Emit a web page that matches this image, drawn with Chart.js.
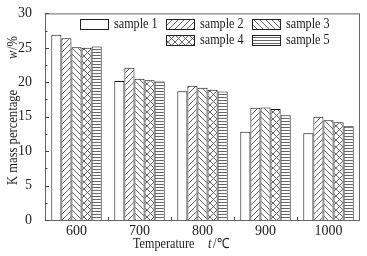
<!DOCTYPE html>
<html>
<head>
<meta charset="utf-8">
<script src="https://cdn.jsdelivr.net/npm/chart.js@4/dist/chart.umd.min.js"></script>
<style>
  html, body { margin: 0; padding: 0; background: #fff; }
  #wrap { width: 367px; height: 256px; }
</style>
</head>
<body>
<div id="wrap"><canvas id="c" width="367" height="256"></canvas></div>
<script>
const FONT = "'Liberation Serif', 'Times New Roman', serif";
const INK = '#1c1c1c';

const temperatures = ['600', '700', '800', '900', '1000'];
const sample1 = [26.9, 20.2, 18.7, 12.8, 12.6];
const sample2 = [26.4, 22.1, 19.5, 16.3, 15.0];
const sample3 = [25.1, 20.5, 19.2, 16.35, 14.5];
const sample4 = [25.0, 20.3, 18.9, 16.1, 14.2];
const sample5 = [25.2, 20.1, 18.65, 15.2, 13.6];
const seriesLabels = ['sample 1', 'sample 2', 'sample 3', 'sample 4', 'sample 5'];
const yTicks = [0, 5, 10, 15, 20, 25, 30];

// hatch fills, built on small tiles
function hatch(kind) {
  const size = kind === 'horiz' ? 3 : (kind === 'cross' ? 7 : 6);
  const t = document.createElement('canvas');
  t.width = size; t.height = size;
  const g = t.getContext('2d');
  g.fillStyle = '#fff';
  g.fillRect(0, 0, size, size);
  g.strokeStyle = '#555';
  g.lineWidth = 0.9;
  g.beginPath();
  if (kind === 'slash' || kind === 'cross') {
    g.moveTo(-1, size + 1); g.lineTo(size + 1, -1);
    g.moveTo(-1, 1); g.lineTo(1, -1);
    g.moveTo(size - 1, size + 1); g.lineTo(size + 1, size - 1);
  }
  if (kind === 'back' || kind === 'cross') {
    g.moveTo(-1, -1); g.lineTo(size + 1, size + 1);
    g.moveTo(size - 1, -1); g.lineTo(size + 1, 1);
    g.moveTo(-1, size - 1); g.lineTo(1, size + 1);
  }
  if (kind === 'horiz') {
    g.moveTo(0, 1.5); g.lineTo(size, 1.5);
  }
  g.stroke();
  return document.getElementById('c').getContext('2d').createPattern(t, 'repeat');
}

const fills = ['#ffffff', hatch('slash'), hatch('back'), hatch('cross'), hatch('horiz')];
const values = [sample1, sample2, sample3, sample4, sample5];

// the scanned text is a bit narrow, so squeeze it horizontally
function squeezed(ctx, str, x, y, font, sx) {
  ctx.save();
  ctx.translate(x, y);
  ctx.scale(sx, 1);
  ctx.font = font;
  ctx.fillText(str, 0, 0);
  ctx.restore();
}

// frame, inside ticks, axis titles and the 3+2 legend
const decor = {
  id: 'decor',
  afterDraw(chart) {
    const { ctx, chartArea: a, scales } = chart;
    ctx.save();
    ctx.strokeStyle = '#666';
    ctx.lineWidth = 1;
    ctx.strokeRect(a.left + 0.5, a.top + 0.5, a.right - a.left - 1, a.bottom - a.top);

    ctx.strokeStyle = '#444';
    ctx.beginPath();
    for (let v = 0; v <= 30; v += 2.5) {
      const y = Math.round(scales.y.getPixelForValue(v)) + 0.5;
      const len = v % 5 === 0 ? 4 : 2.5;
      ctx.moveTo(a.left, y); ctx.lineTo(a.left + len, y);
    }
    for (let i = 1; i < temperatures.length; i++) {
      const x = Math.round((scales.x.getPixelForValue(i - 1) + scales.x.getPixelForValue(i)) / 2) + 0.5;
      ctx.moveTo(x, a.bottom); ctx.lineTo(x, a.bottom - 3);
    }
    ctx.stroke();

    ctx.fillStyle = INK;
    ctx.textBaseline = 'middle';
    ctx.textAlign = 'left';
    const f = '14px ' + FONT, fi = 'italic 14px ' + FONT;

    // x title
    squeezed(ctx, 'Temperature', 133, 244, f, 0.87);
    squeezed(ctx, 't', 208, 244, fi, 0.9);
    squeezed(ctx, '/\u2103', 213, 244, f, 0.9);

    // y title
    ctx.save();
    ctx.translate(13, 0);
    ctx.rotate(-Math.PI / 2);
    squeezed(ctx, 'K mass percentage', -185, 0, f, 0.9);
    squeezed(ctx, 'w', -59, 0, fi, 0.9);
    squeezed(ctx, '/%', -50, 0, f, 0.9);
    ctx.restore();

    // legend
    const slots = [[80, 19], [166, 19], [252, 19], [166, 35], [252, 35]];
    chart.data.datasets.forEach((ds, i) => {
      const [x, y] = slots[i];
      ctx.fillStyle = ds.backgroundColor;
      ctx.fillRect(x, y, 28, 10);
      ctx.strokeStyle = '#222';
      ctx.strokeRect(x + 0.5, y + 0.5, 28, 10);
      ctx.fillStyle = INK;
      squeezed(ctx, ds.label, x + 34, y + 5.5, f, 0.87);
    });
    ctx.restore();
  }
};

new Chart(document.getElementById('c'), {
  type: 'bar',
  data: {
    labels: temperatures,
    datasets: values.map((v, i) => ({
      label: seriesLabels[i],
      data: v,
      backgroundColor: fills[i],
      borderColor: '#111',
      borderWidth: 1,
      categoryPercentage: 0.8,
      barPercentage: 1.0,
    })),
  },
  options: {
    responsive: false,
    animation: false,
    devicePixelRatio: 1,
    layout: { padding: { left: 0, right: 7, top: 11, bottom: 0 } },
    plugins: { legend: { display: false }, tooltip: { enabled: false } },
    scales: {
      x: {
        grid: { display: false },
        border: { display: false },
        ticks: { color: INK, font: { family: FONT, size: 14 }, padding: -5, maxRotation: 0 },
        afterFit: (s) => { s.height = 36; },
      },
      y: {
        min: 0,
        max: 30,
        afterBuildTicks: (s) => { s.ticks = yTicks.map(v => ({ value: v })); },
        grid: { display: false },
        border: { display: false },
        ticks: { color: INK, font: { family: FONT, size: 14 }, padding: 5 },
        afterFit: (s) => { s.width = 45; },
      },
    },
  },
  plugins: [decor],
});
</script>
</body>
</html>
